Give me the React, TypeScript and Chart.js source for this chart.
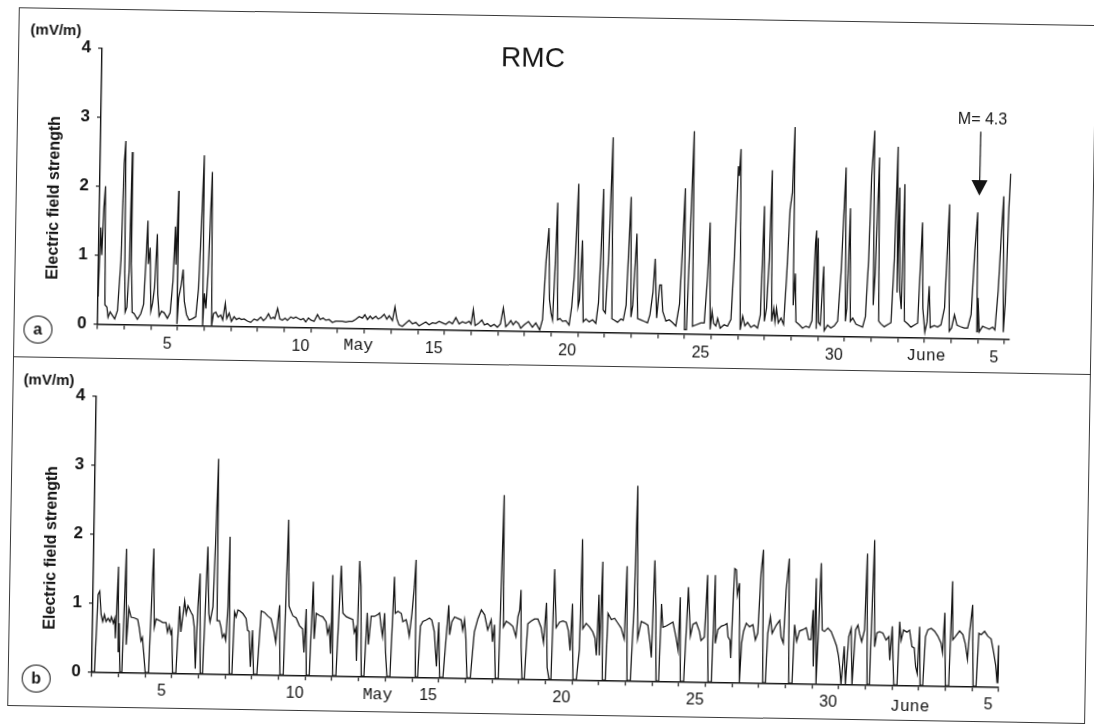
import React, { useEffect, useRef } from 'react';
import { Chart, registerables } from 'chart.js';

Chart.register(...registerables);

// Time axis: hours since 3 May 00:00
const DAY_TICK_HOURS = [0, 24, 48, 72, 96, 120, 144, 168, 192, 216, 240, 264, 288, 312, 336, 360, 384, 408, 432, 456, 480, 504, 528, 552, 576, 600, 624, 648, 672, 696, 720, 744, 768, 792, 816];
const LABEL_HOURS = [48, 168, 288, 408, 528, 648, 792];
const LABEL_TEXTS = ['5', '10', '15', '20', '25', '30', '5'];
const Y_TICKS = [0, 1, 2, 3, 4];

// Panel (a): [hour, field mV/m]
const aEarly: [number, number][] = [
  [0, 0.4], [1.5, 1.4], [2.7, 1.0], [4, 1.7], [5.1, 2.0], [6.3, 0.28], [8.1, 0.25], [9.3, 0.1], [11.1, 0.18], [13.2, 0.13], [15.3, 0.08], [17.7, 0.2],
  [20.1, 0.93], [21.6, 2.33], [22.8, 2.66], [23.7, 0.78], [24.6, 0.18], [26.1, 0.25], [27.6, 0.78], [28.8, 2.5], [29.4, 0.88], [30, 0.69], [30.9, 0.18],
  [32.7, 0.16], [35.7, 0.08], [38.7, 0.16], [41.1, 0.3], [42.6, 0.93], [43.8, 1.51], [44.7, 0.88], [46.2, 1.12], [47.7, 0.2], [49.2, 0.32], [50.7, 0.54],
  [52.5, 1.32], [53.7, 0.45], [55.2, 0.13], [57.3, 0.2], [59.7, 0.18], [62.7, 0.1], [65.1, 0.18], [67.2, 0.64], [68.7, 1.43], [69.6, 0.88], [71.1, 1.95],
  [71.4, 0.02], [72.6, 0.4], [74.7, 0.59], [76.2, 0.81], [77.7, 0.35], [79.8, 0.16], [82.2, 0.08], [85.2, 0.1], [88.2, 0.13], [90.3, 0.54], [92.1, 1.51],
  [93.6, 2.47], [94.5, 0.0], [95.7, 0.47], [97.2, 0.25], [98.7, 0.78], [99.9, 1.51], [101.1, 2.23], [102.6, 0.0],
];
const aQuiet: [number, number][] = [
  [104.1, 0.18], [106.2, 0.2], [108.3, 0.13], [110.7, 0.16], [112.5, 0.09], [114.6, 0.33], [116.1, 0.11], [118.2, 0.19], [120.3, 0.07], [122.7, 0.14],
  [124.8, 0.1], [127.2, 0.12], [129.3, 0.1], [131.7, 0.11], [134.7, 0.08], [137.7, 0.06], [140.7, 0.11], [143.7, 0.09], [146.7, 0.14], [149.1, 0.09],
  [151.2, 0.12], [153.6, 0.19], [155.7, 0.12], [158.1, 0.14], [159.3, 0.12], [161.7, 0.27], [163.8, 0.12], [166.2, 0.1], [168.6, 0.13], [170.7, 0.1],
  [173.7, 0.15], [176.1, 0.13], [178.2, 0.15], [180.3, 0.13], [182.7, 0.11], [185.1, 0.13], [187.2, 0.08], [189.6, 0.14], [191.7, 0.11], [194.7, 0.09],
  [197.7, 0.19], [200.1, 0.12], [202.8, 0.14], [205.2, 0.11], [208.2, 0.12], [211.2, 0.08], [214.2, 0.1], [217.2, 0.1], [220.2, 0.1], [223.2, 0.09],
  [226.2, 0.1], [229.2, 0.1], [232.2, 0.13], [235.2, 0.17], [238.2, 0.15], [240.3, 0.2], [242.7, 0.13], [245.1, 0.18], [247.2, 0.14], [250.2, 0.18],
  [252.3, 0.14], [254.7, 0.16], [257.7, 0.21], [260.1, 0.14], [262.2, 0.19], [265.2, 0.12], [267.3, 0.32], [269.1, 0.15], [271.2, 0.06], [274.2, 0.04],
  [280.2, 0.13], [283.2, 0.08], [286.2, 0.1], [289.2, 0.05], [292.2, 0.08], [295.2, 0.11], [298.2, 0.07], [301.2, 0.1], [304.2, 0.09], [307.2, 0.12],
  [310.2, 0.1], [313.2, 0.08], [316.2, 0.12], [319.2, 0.09], [322.2, 0.18], [325.2, 0.09], [328.2, 0.12], [331.2, 0.1], [334.2, 0.13], [336, 0.09],
  [337.8, 0.3], [339.6, 0.07], [342.6, 0.1], [345.6, 0.15], [348, 0.08], [350.7, 0.1], [353.7, 0.06], [356.7, 0.09], [359.7, 0.05], [362.4, 0.1],
  [364.8, 0.33], [367.2, 0.06], [369.6, 0.1], [371.7, 0.15], [373.8, 0.09], [376.2, 0.14], [378.6, 0.11], [380.7, 0.04], [383.7, 0.09], [387.6, 0.14],
  [391.2, 0.06], [394.2, 0.12], [397.8, 0.02],
];
const aBurst: [number, number][] = [
  [400.2, 0.17], [402.6, 1.04], [404.7, 1.5], [406.2, 0.46], [407.7, 0.27], [409.2, 0.17], [410.7, 0.9], [412.2, 1.87], [413.7, 0.17], [415.8, 0.19],
  [418.2, 0.15], [421.2, 0.16], [424.2, 0.1], [426.3, 0.37], [428.1, 0.8], [429.6, 1.48], [430.8, 2.15], [432, 0.37], [433.2, 0.47], [435, 1.33],
  [436.8, 0.15], [439.2, 0.19], [442.2, 0.15], [445.2, 0.18], [448.2, 0.13], [450.3, 0.43], [451.8, 1.15], [453.3, 2.08], [454.5, 0.33], [456.6, 0.28],
  [458.7, 1.06], [461.1, 2.83], [462.6, 0.2], [464.7, 0.18], [467.7, 0.15], [470.7, 0.2], [472.8, 0.18], [475.2, 0.4], [478.2, 1.97], [479.7, 0.23],
  [481.2, 0.4], [483.9, 1.44], [485.7, 0.21], [488.7, 0.19], [491.7, 0.17], [494.7, 0.15], [496.8, 0.27], [499.2, 0.6], [500.7, 1.08], [502.8, 0.22],
  [505.2, 0.7], [506.7, 0.7], [508.2, 0.32], [511.2, 0.18], [514.2, 0.2], [517.2, 0.16], [520.2, 0.11], [523.2, 0.43], [525, 1.2], [526.8, 2.11],
  [528, 0.06], [529.8, 0.06], [532.2, 1.68], [534, 2.94], [535.2, 0.11], [538.2, 0.13], [542.7, 0.16],
];
const aLate: [number, number][] = [
  [545.7, 0.16], [548.1, 0.84], [549.6, 1.62], [551.1, 0.07], [552.6, 0.33], [554.1, 0.16], [556.2, 0.12], [557.7, 0.23], [560.1, 0.09], [563.7, 0.14],
  [566.7, 0.12], [569.7, 0.22], [571.8, 1.09], [574.2, 2.44], [575.1, 2.3], [576.3, 2.69], [578.1, 0.07], [580.2, 0.27], [582.3, 0.13], [584.7, 0.18],
  [587.7, 0.11], [590.7, 0.14], [593.7, 0.1], [596.1, 0.29], [598.2, 1.87], [599.7, 0.2], [601.5, 0.39], [603.3, 1.09], [604.8, 2.39], [606.3, 0.2],
  [608.1, 0.39], [609.3, 0.2], [610.5, 0.39], [612.3, 0.18], [614.7, 0.25], [617.1, 0.16], [619.2, 0.86], [621.3, 1.83], [623.1, 2.07], [624.6, 3.02],
  [625.5, 0.44], [627, 0.9], [628.2, 0.2], [631.2, 0.16], [634.2, 0.11], [637.2, 0.14], [640.2, 0.12], [642.6, 0.22], [644.7, 1.35], [645.6, 1.53],
  [646.5, 0.1], [647.1, 1.42], [648.3, 0.2], [650.1, 0.16], [652.5, 1.01], [653.7, 0.08], [656.7, 0.16], [659.7, 0.12], [662.7, 0.15], [665.7, 0.22],
  [668.1, 0.93], [671.1, 2.45], [672.6, 0.22], [673.8, 0.41], [675.6, 1.86], [677.1, 0.22], [679.2, 0.27], [682.2, 0.18], [685.2, 0.16], [688.2, 0.14],
  [690.6, 0.29], [692.7, 1.12], [694.2, 2.33], [696.3, 2.99], [697.5, 0.46], [698.7, 0.89], [701.1, 2.6], [702.6, 0.23], [704.7, 0.19], [707.7, 0.15],
  [710.7, 0.18], [713.7, 0.21], [715.8, 1.13], [717.6, 2.76], [718.8, 0.65], [719.7, 2.17], [721.2, 0.67], [722.7, 0.41], [724.2, 2.22], [725.7, 0.24],
  [728.7, 0.2], [731.7, 0.15], [734.7, 0.18], [737.7, 0.21], [739.2, 0.97], [740.7, 1.67], [742.2, 0.42], [744.3, 0.08], [746.1, 0.23], [747.6, 0.75],
  [749.1, 0.15], [752.7, 0.18], [755.7, 0.16], [758.7, 0.19], [761.7, 0.44], [764.7, 1.94], [766.2, 0.1], [768.3, 0.15], [770.7, 0.34], [773.1, 0.19],
  [776.1, 0.17], [779.7, 0.15], [782.7, 0.15], [785.7, 0.35], [788.1, 1.27], [790.2, 1.83], [791.1, 0.1], [791.7, 0.59], [793.2, 0.1], [796.2, 0.18],
  [799.2, 0.16], [802.2, 0.14], [805.2, 0.17], [807.3, 0.13], [809.7, 0.7], [811.5, 1.43], [813.3, 2.07], [814.8, 0.1], [816.3, 0.53], [818.1, 1.89],
  [819.3, 2.4],
];

// Panel (b): [hour, field mV/m]
const bFirst: [number, number][] = [
  [0, 0], [2.4, 0], [4.5, 1.12], [6, 1.17], [7.5, 0.83], [9, 0.73], [10.5, 0.83], [12, 0.73], [13.8, 0.78], [15.6, 0.73], [16.8, 0.8], [18.6, 0.71],
  [19.8, 0.78], [20.7, 0.49], [22.5, 1.53], [23.4, 0.3], [24, 0.71], [25.2, 0],
  [27, 0], [29.4, 1.79], [30.6, 0.4], [32.4, 0.93], [34.5, 0.8], [37.5, 0.79], [40.5, 0.77], [42, 0.65], [43.8, 0.46], [45, 0.51], [46.5, 0.27], [48, 0],
  [51, 0], [54, 1.8], [55.5, 0.66], [57, 0.78], [60, 0.76], [63, 0.73], [66, 0.73], [67.5, 0.59], [69, 0.69], [70.5, 0.57], [71.4, 0.62], [72.6, 0],
  [75.6, 0], [78, 0.97], [79.5, 0.6], [82.5, 1.05], [84, 0.86], [85.5, 0.98], [88.5, 0.88], [90, 0.84], [91.5, 0.67], [93, 0.07], [94.5, 0.96], [96, 1.45], [97.5, 0],
  [99.6, 0], [102.6, 1.84], [104.4, 0.87], [105.6, 0.75], [108, 0.97], [109.5, 1.94], [111, 3.12], [111.9, 0.77], [114, 0.77], [115.5, 0.68], [117, 0.53],
  [118.5, 0.58], [120, 0.49], [121.5, 0.97], [122.4, 1.99], [123.6, 0],
  [126, 0], [127.5, 0.9], [129, 0.83], [130.5, 0.93], [132, 0.92], [135, 0.88], [138, 0.81], [139.5, 0.64], [141, 0.62], [142.5, 0.11], [144, 0.64], [145.5, 0],
  [148.5, 0], [151.5, 0.92], [154.5, 0.9], [157.5, 0.85], [160.5, 0.81], [163.5, 0.61], [165, 0.47], [166.5, 0.76], [168, 1.01], [169.2, 0],
  [172.2, 0], [174.9, 2.25], [176.4, 1.0], [177.6, 0.95], [180, 0.86], [183, 0.83], [186, 0.72], [189, 0.67], [190.5, 0.33], [192, 0.96], [192.9, 0],
  [195.6, 0], [198, 1.36], [199.5, 0.53], [201, 0.9], [204, 0.87], [207, 0.85], [210, 0.78], [211.5, 0.61], [213, 0.71], [214.5, 0.32], [215.4, 1.46], [216.6, 0],
  [219.6, 0], [222.9, 1.6], [225, 0.91], [228, 0.86], [231, 0.84], [234, 0.82], [235.5, 0.63], [237, 0.7], [237.9, 0.22], [239.4, 1.67], [240.9, 1.3], [242.4, 0],
  [244.8, 0], [246.9, 0.92], [248.4, 0.46], [250.5, 0.87], [253.5, 0.87], [256.5, 0.9], [258, 0.92], [259.5, 0.73], [261, 0.58], [262.5, 0.92], [264, 0.34], [265.5, 0],
  [268.2, 0],
];
const bMiddle: [number, number][] = [
  [270.9, 1.45], [272.1, 0.92], [274.5, 0.95], [277.5, 0.92], [279, 0.8], [282, 0.83], [283.5, 0.73], [285, 0.59], [287.1, 0.92], [288.9, 1.31], [290.1, 1.7], [291, 0],
  [293.1, 0], [294.9, 0.74], [297, 0.81], [300, 0.83], [303, 0.86], [305.1, 0.83], [307.5, 0.66], [309.9, 0.16], [311.4, 0.8], [312.9, 0],
  [315.9, 0], [320.1, 1.05], [321.3, 0.62], [323.1, 0.81], [325.5, 0.88], [328.5, 0.86], [331.5, 0.84], [333, 0.69], [334.5, 0.84], [336, 0.57], [337.5, 0],
  [340.5, 0], [343.5, 0.67], [346.5, 0.86], [349.5, 0.99], [352.5, 0.92], [355.5, 0.7], [358.5, 0.85], [360, 0.53], [361.5, 0.78], [363, 0],
  [365.7, 0], [368.4, 2.66], [369.6, 0.75], [372, 0.83], [375, 0.8], [378, 0.76], [381, 0.61], [382.5, 0.9], [384, 1.0], [384.9, 1.29], [385.8, 0.47], [387, 0],
  [389.1, 0], [391.5, 0.8], [394.5, 0.84], [397.5, 0.87], [400.5, 0.87], [403.5, 0.75], [405.9, 0.53], [408, 1.11], [409.5, 0.17], [411.3, 0],
  [413.1, 0], [414.9, 1.6], [417, 0.75], [420, 0.83], [423, 0.85], [426, 0.83], [428.1, 0.71], [429.9, 0.42], [431.4, 1.1], [432.9, 0],
  [435.9, 0], [438.3, 0.44], [439.5, 2.04], [441, 0.74], [444, 0.82], [447, 0.77], [450, 0.7], [452.1, 0.61], [453.6, 0.36], [455.1, 1.24], [456.3, 0.36],
  [458.1, 1.72], [459.3, 0],
  [462, 0], [463.5, 0.97], [466.5, 0.88], [469.5, 0.9], [472.5, 0.83], [475.5, 0.76], [478.5, 0.6], [480, 1.66], [481.5, 0],
  [484.5, 0], [486.9, 1.08], [488.4, 2.83], [490.5, 0.61], [493.5, 0.86], [496.5, 0.84], [499.5, 0.81], [501.9, 0.53], [503.1, 0.34], [504.9, 1.75], [506.4, 1.11], [507.6, 0],
  [510, 0], [511.5, 1.12], [513, 0.78], [516, 0.8], [519, 0.83], [522, 0.86], [525, 0.64], [527.1, 0.45], [528.3, 1.22], [529.5, 0],
];
const bLast: [number, number][] = [
  [532.5, 0], [535.5, 1.37], [537.9, 0.66], [540, 0.83], [543, 0.86], [546, 0.73], [547.5, 0.6], [550.5, 0.65], [552.6, 1.55], [554.4, 0], [557.4, 0],
  [559.5, 1.55], [560.4, 0.56], [562.5, 0.76], [565.5, 0.81], [568.5, 0.83], [570.6, 0.85], [571.8, 0.66], [573.6, 0.61], [574.5, 0.35], [576, 1.24],
  [576.9, 1.65], [578.4, 1.63], [579.6, 1.27], [581.4, 1.44], [582.6, 0], [584.1, 0.57], [585.6, 0.74], [588, 0.86], [591, 0.81], [594, 0.84], [596.4, 0.62],
  [598.5, 0.72], [600.6, 1.59], [602.4, 1.93], [603.6, 0], [606, 0], [607.5, 0.72], [609.6, 0.96], [611.4, 0.72], [615, 0.84], [618, 0.91], [619.5, 0.67],
  [621.6, 0.58], [623.4, 1.35], [625.8, 1.81], [627, 0], [630, 0], [631.5, 0.85], [633.6, 0.61], [636, 0.76], [639, 0.78], [642, 0.81], [644.4, 0.64],
  [646.5, 0.64], [648, 1.07], [648.9, 0.25], [650.4, 1.53], [651.6, 0], [652.8, 0.64], [654.6, 1.75], [656.4, 0.78], [658.5, 0.76], [661.5, 0.81],
  [664.5, 0.76], [667.5, 0.64], [669.6, 0.55], [671.4, 0.41], [672.6, 0.26], [674.1, 0], [676.5, 0.55], [678, 0], [680.4, 0.69], [682.5, 0.81], [684, 0],
  [686.4, 0.79], [688.5, 0.86], [690, 0.74], [692.1, 0.62], [694.5, 0.79], [696, 1.9], [697.5, 0], [699.6, 0], [702.3, 2.1], [703.8, 0.55], [705.6, 0.75],
  [708, 0.77], [711, 0.75], [714, 0.65], [716.4, 0.7], [717.6, 0.36], [719.4, 0.85], [721.5, 0], [724.5, 0], [726, 0.92], [727.5, 0.65], [729.6, 0.8],
  [732.6, 0.77], [735, 0.8], [737.4, 0.56], [739.5, 0.54], [741, 0.27], [742.5, 0.17], [744, 0.85], [745.2, 0], [747.6, 0], [749.4, 0.71], [751.5, 0.81],
  [754.5, 0.83], [757.5, 0.79], [760.5, 0.72], [763.5, 0.62], [765, 0.48], [766.5, 1.06], [768, 0], [771, 0], [773.1, 1.52], [774, 0.67], [776.4, 0.72],
  [780, 0.8], [783, 0.75], [785.4, 0.61], [787.5, 0.39], [789, 0.78], [791.4, 1.18], [792.9, 0], [795.6, 0], [797.4, 0.77], [799.5, 0.75], [802.5, 0.8],
  [805.5, 0.73], [808.5, 0.69], [810.9, 0.5], [813, 0.31], [814.5, 0.05], [815.4, 0.6], [816, 0.05],
];

const FONT = "'Liberation Sans', Arial, Helvetica, sans-serif";
const MONO = "'Liberation Mono', 'Courier New', monospace";
const INK = '#141414';

type PanelOpts = { xMax: number; padTop: number; padRight: number; xAxisHeight: number };

function makeChart(canvas: HTMLCanvasElement, pts: [number, number][], o: PanelOpts) {
  return new Chart(canvas, {
    type: 'line',
    data: {
      datasets: [
        {
          data: pts.map(([x, y]) => ({ x, y })),
          borderColor: INK,
          borderWidth: 1.25,
          pointRadius: 0,
          tension: 0,
          fill: false,
        },
      ],
    },
    options: {
      animation: false,
      responsive: false,
      maintainAspectRatio: false,
      events: [],
      layout: { padding: { top: o.padTop, right: o.padRight, left: 0, bottom: 0 } },
      plugins: { legend: { display: false }, tooltip: { enabled: false }, title: { display: false } },
      scales: {
        x: {
          type: 'linear',
          min: 0,
          max: o.xMax,
          afterBuildTicks: (s: any) => {
            s.ticks = DAY_TICK_HOURS.filter((h) => h <= o.xMax).map((v) => ({ value: v }));
          },
          afterFit: (s: any) => {
            s.height = o.xAxisHeight;
          },
          grid: { display: true, drawOnChartArea: false, drawTicks: true, tickLength: 5, color: '#222', lineWidth: 1.2 },
          border: { display: true, color: INK, width: 1.4 },
          ticks: {
            autoSkip: false,
            maxRotation: 0,
            minRotation: 0,
            padding: 4,
            labelOffset: 16.5,
            color: INK,
            font: { family: FONT, size: 16 },
            callback: (v: any) => {
              const i = LABEL_HOURS.indexOf(Number(v));
              return i >= 0 ? LABEL_TEXTS[i] : '';
            },
          },
        },
        y: {
          type: 'linear',
          min: 0,
          max: 4,
          afterBuildTicks: (s: any) => {
            s.ticks = Y_TICKS.map((v) => ({ value: v }));
          },
          afterFit: (s: any) => {
            s.width = 97;
          },
          grid: { display: true, drawOnChartArea: false, drawTicks: true, tickLength: 4, color: '#222', lineWidth: 1.2 },
          border: { display: true, color: INK, width: 1.4 },
          ticks: {
            padding: 7,
            color: INK,
            font: { family: FONT, size: 17, weight: 'bold' },
            callback: (v: any) => String(v),
          },
        },
      },
    } as any,
  });
}

const abs = (x: number, y: number, extra: React.CSSProperties = {}): React.CSSProperties => ({
  position: 'absolute',
  left: x,
  top: y,
  transform: 'translate(-50%, -50%)',
  whiteSpace: 'nowrap',
  lineHeight: 1,
  ...extra,
});

function Circle({ x, y, letter }: { x: number; y: number; letter: string }) {
  return (
    <div
      style={{
        position: 'absolute',
        left: x - 14.5,
        top: y - 14,
        width: 29,
        height: 28,
        borderRadius: '50%',
        border: `1.3px solid ${INK}`,
        boxSizing: 'border-box',
        display: 'flex',
        alignItems: 'center',
        justifyContent: 'center',
        fontSize: 16,
        fontWeight: 'bold',
        lineHeight: 1,
      }}
    >
      {letter}
    </div>
  );
}

export default function App() {
  const refA = useRef<HTMLCanvasElement>(null);
  const refB = useRef<HTMLCanvasElement>(null);

  useEffect(() => {
    Chart.defaults.font.family = FONT;
    const seriesA = [...aEarly, ...aQuiet, ...aBurst, ...aLate];
    const seriesB = [...bFirst, ...bMiddle, ...bLast];
    const ca = makeChart(refA.current!, seriesA, { xMax: 820, padTop: 55.5, padRight: 41.6, xAxisHeight: 33.5 });
    const cb = makeChart(refB.current!, seriesB, { xMax: 816, padTop: 38.5, padRight: 46, xAxisHeight: 35.8 });
    return () => {
      ca.destroy();
      cb.destroy();
    };
  }, []);

  const line = '1.5px solid #3a3a3a';

  return (
    <div style={{ position: 'absolute', left: 0, top: 0, width: 1094, height: 725, overflow: 'hidden', background: '#fff' }}>
      <div
        style={{
          position: 'absolute',
          left: 0,
          top: 0,
          width: 1094,
          height: 725,
          background: '#fff',
          transform: 'rotate(0.95deg)',
          transformOrigin: '547px 362.5px',
          fontFamily: FONT,
          color: INK,
        }}
      >
        {/* frame */}
        <div style={{ position: 'absolute', left: 13, top: 15.5, width: 1078, height: 699.5, border: line, boxSizing: 'border-box' }} />
        <div style={{ position: 'absolute', left: 13, top: 365, width: 1078, height: 0, borderTop: line }} />

        <canvas ref={refA} width={1050} height={365} style={{ position: 'absolute', left: 0, top: 0 }} />
        <canvas ref={refB} width={1050} height={350} style={{ position: 'absolute', left: 0, top: 365 }} />

        {/* panel a texts */}
        <div style={abs(50.5, 37.2, { fontSize: 15, fontWeight: 'bold' })}>(mV/m)</div>
        <div style={abs(50.6, 205.7, { fontSize: 16, fontWeight: 'bold', transform: 'translate(-50%, -50%) rotate(-90deg)' })}>
          Electric field strength
        </div>
        <div style={abs(528, 58.2, { fontSize: 28 })}>RMC</div>
        <div style={abs(978.5, 111.8, { fontSize: 16 })}>M= 4.3</div>
        <div style={abs(358.1, 349.2, { fontSize: 16.5, fontFamily: MONO })}>May</div>
        <div style={abs(925.7, 349.9, { fontSize: 16.5, fontFamily: MONO })}>June</div>
        <Circle x={37.2} y={337.5} letter="a" />

        {/* panel b texts */}
        <div style={abs(49.3, 386.8, { fontSize: 15, fontWeight: 'bold' })}>(mV/m)</div>
        <div style={abs(53.6, 555.7, { fontSize: 16, fontWeight: 'bold', transform: 'translate(-50%, -50%) rotate(-90deg)' })}>
          Electric field strength
        </div>
        <div style={abs(383, 698.1, { fontSize: 16.5, fontFamily: MONO })}>May</div>
        <div style={abs(915.3, 701, { fontSize: 16.5, fontFamily: MONO })}>June</div>
        <Circle x={41.5} y={686.8} letter="b" />

        {/* earthquake arrow */}
        <svg width={1094} height={725} style={{ position: 'absolute', left: 0, top: 0, pointerEvents: 'none' }}>
          <line x1={976.9} y1={124.5} x2={976.6} y2={175} stroke={INK} strokeWidth={1.2} />
          <polygon points="968.5,173 984.5,173 976.5,188.5" fill={INK} />
        </svg>
      </div>
    </div>
  );
}
